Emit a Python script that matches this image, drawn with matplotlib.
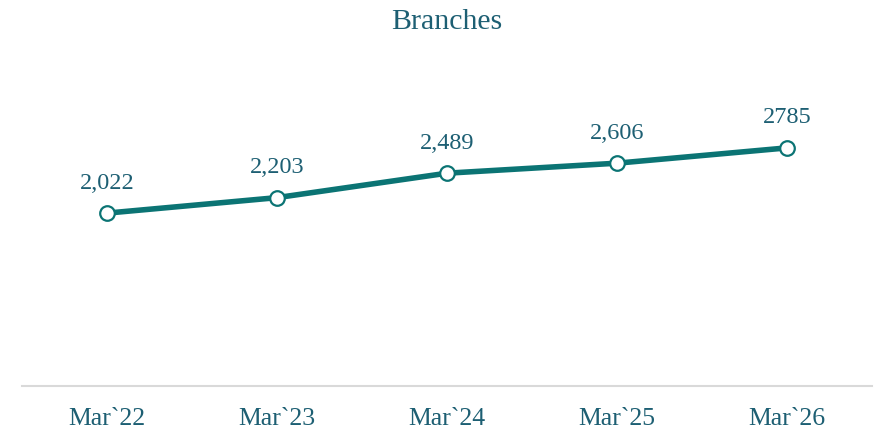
import matplotlib.pyplot as plt

categories = ["Mar`22", "Mar`23", "Mar`24", "Mar`25", "Mar`26"]
values = [2022, 2203, 2489, 2606, 2785]
labels = ["2,022", "2,203", "2,489", "2,606", "2785"]

text_color = "#1d5f73"
line_color = "#0b7474"

plt.rcParams['font.family'] = ['Liberation Serif', 'DejaVu Serif']

fig = plt.figure(figsize=(8.88, 4.33), dpi=100)
ax = fig.add_axes([22 / 888, 1 - 386 / 433, 850 / 888, 342 / 433])

x = list(range(len(categories)))
ax.plot(x, values, color=line_color, linewidth=4, marker='o', markersize=10.5,
        markerfacecolor='white', markeredgecolor=line_color, markeredgewidth=1.6,
        solid_capstyle='butt', zorder=3)

for xi, v, lab in zip(x, values, labels):
    ax.annotate(lab, (xi, v), xytext=(0, 14), textcoords='offset points',
                ha='center', va='bottom', fontsize=17.5, color=text_color)

ax.set_xlim(-0.5, len(categories) - 0.5)
ax.set_ylim(0, 4000)
ax.set_xticks(x)
ax.set_xticklabels(categories, fontsize=18.5, color=text_color)
ax.tick_params(axis='x', length=0, pad=16)
ax.set_yticks([])
for side in ['top', 'right', 'left']:
    ax.spines[side].set_visible(False)
ax.spines['bottom'].set_color('#d9d9d9')
ax.spines['bottom'].set_linewidth(1.5)

fig.text(447 / 888, 1 - 22 / 433, "Branches", ha='center', va='center',
         fontsize=21.5, color=text_color)

fig.savefig("out.png", dpi=100)
